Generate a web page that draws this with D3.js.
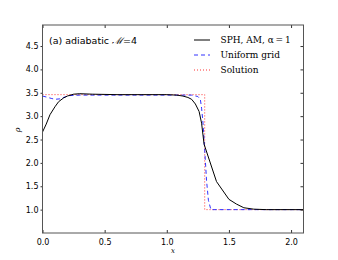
<!DOCTYPE html>
<html lang="en">
<head>
<meta charset="utf-8">
<script src="https://d3js.org/d3.v7.min.js"></script>
<style>
  body { margin: 0; background: #fff; }
  .tick text { font-family: "DejaVu Sans", sans-serif; font-size: 8px; fill: #000; }
  .leg { font-family: "DejaVu Serif", "Liberation Serif", serif; font-size: 9px; }
</style>
</head>
<body>
<div id="chart"></div>
<script>
// SPH, AM, alpha=1
var sphX = [0, 0.03, 0.06, 0.1, 0.13, 0.17, 0.2, 0.25, 0.3, 0.4, 0.6, 0.8, 1.0, 1.08, 1.13, 1.17, 1.2, 1.23, 1.26, 1.28, 1.3, 1.4, 1.5, 1.56, 1.62, 1.7, 1.8, 2.1];
var sphY = [2.66, 2.83, 3.03, 3.2, 3.31, 3.39, 3.43, 3.47, 3.48, 3.47, 3.46, 3.46, 3.46, 3.45, 3.43, 3.40, 3.36, 3.26, 3.1, 2.85, 2.4, 1.6, 1.22, 1.12, 1.04, 1.01, 1.0, 1.0];
// Uniform grid
var uniX = [0, 0.03, 0.07, 0.1, 0.14, 0.18, 0.22, 0.3, 1.2, 1.25, 1.27, 1.28, 1.29, 1.3, 1.32, 1.335, 1.355, 2.1];
var uniY = [3.43, 3.41, 3.38, 3.36, 3.37, 3.41, 3.44, 3.45, 3.45, 3.42, 3.36, 3.17, 2.9, 2.5, 1.62, 1.2, 1.0, 1.0];
// Solution
var solX = [0, 1.305, 1.305, 2.1];
var solY = [3.46, 3.46, 1.0, 1.0];

var xTicks = [0, 0.5, 1.0, 1.5, 2.0];
var yTicks = [1.0, 1.5, 2.0, 2.5, 3.0, 3.5, 4.0, 4.5];

var W = 338, H = 260;
var L = 42.5, R = 303.5, T = 25, B = 233;

var svg = d3.select('#chart').append('svg').attr('width', W).attr('height', H);

var x = d3.scaleLinear().domain([0, 2.1]).range([L, R]);
var y = d3.scaleLinear().domain([0.5, 4.95]).range([B, T]);

var fmt = d3.format('.1f');
var axisColor = '#555';

// axes (ticks inward)
var gx = svg.append('g').attr('transform', 'translate(0,' + B + ')')
  .call(d3.axisBottom(x).tickValues(xTicks).tickFormat(fmt).tickSizeInner(-3).tickSizeOuter(0).tickPadding(6));
var gxt = svg.append('g').attr('transform', 'translate(0,' + T + ')')
  .call(d3.axisTop(x).tickValues(xTicks).tickFormat('').tickSizeInner(-3).tickSizeOuter(0));
var gy = svg.append('g').attr('transform', 'translate(' + L + ',0)')
  .call(d3.axisLeft(y).tickValues(yTicks).tickFormat(fmt).tickSizeInner(2).tickSizeOuter(0).tickPadding(2));
var gyr = svg.append('g').attr('transform', 'translate(' + R + ',0)')
  .call(d3.axisRight(y).tickValues(yTicks).tickFormat('').tickSizeInner(-3).tickSizeOuter(0));
[gx, gxt, gy, gyr].forEach(function (g) {
  g.select('.domain').remove();
  g.selectAll('.tick line').attr('stroke', '#333');
});

var line = d3.line().x(function (d) { return x(d[0]); }).y(function (d) { return y(d[1]); });
function pts(xs, ys) { return xs.map(function (v, i) { return [v, ys[i]]; }); }

var plot = svg.append('g');
plot.append('path').datum(pts(solX, solY)).attr('d', line)
  .attr('fill', 'none').attr('stroke', '#ff3333').attr('stroke-width', 1).attr('stroke-dasharray', '1,2');
plot.append('path').datum(pts(uniX, uniY)).attr('d', line)
  .attr('fill', 'none').attr('stroke', '#3333ff').attr('stroke-width', 1).attr('stroke-dasharray', '4,3');
plot.append('path').datum(pts(sphX, sphY)).attr('d', line)
  .attr('fill', 'none').attr('stroke', '#000').attr('stroke-width', 1);

// frame
svg.append('rect').attr('x', L).attr('y', T).attr('width', R - L).attr('height', B - T)
  .attr('fill', 'none').attr('stroke', axisColor).attr('stroke-width', 1);

// title
svg.append('text').attr('x', 49).attr('y', 44)
  .attr('font-family', 'DejaVu Sans, sans-serif').attr('font-size', 9.5)
  .text('(a) adiabatic ')
  .append('tspan').attr('font-family', 'DejaVu Serif, serif').attr('font-style', 'italic').text('\u2133')
  .select(function () { return this.parentNode; })
  .append('tspan').text('=4');

// legend
var legend = [
  { label: 'SPH, AM, \u03b1\u2009=\u20091', color: '#000', dash: null },
  { label: 'Uniform grid', color: '#3333ff', dash: '4,3' },
  { label: 'Solution', color: '#ff3333', dash: '1,2' }
];
legend.forEach(function (d, i) {
  var yy = 40 + i * 15;
  svg.append('line').attr('x1', 194).attr('x2', 210).attr('y1', yy).attr('y2', yy)
    .attr('stroke', d.color).attr('stroke-width', 1).attr('stroke-dasharray', d.dash);
  svg.append('text').attr('class', 'leg').attr('x', 220.5).attr('y', yy + 3).text(d.label);
});

// axis labels
svg.append('text').attr('x', (L + R) / 2).attr('y', 253).attr('text-anchor', 'middle')
  .attr('font-family', 'DejaVu Serif, serif').attr('font-style', 'italic').attr('font-size', 7).text('x');
svg.append('text').attr('transform', 'translate(20,130) rotate(-90)').attr('text-anchor', 'middle')
  .attr('font-family', 'DejaVu Serif, serif').attr('font-style', 'italic').attr('font-size', 8).text('\u03c1');
</script>
</body>
</html>
